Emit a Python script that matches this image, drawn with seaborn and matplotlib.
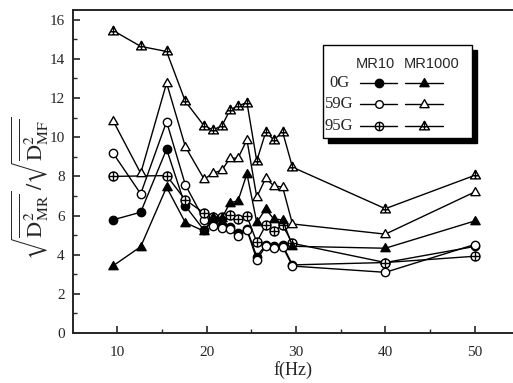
import numpy as np
import pandas as pd
import matplotlib
matplotlib.use("Agg")
import matplotlib.pyplot as plt
from matplotlib.path import Path
from matplotlib.lines import Line2D
from matplotlib.patches import Rectangle
import seaborn as sns

# ---------------- data ----------------
freq = [9.5, 12.6, 15.5, 17.6, 19.7, 20.7, 21.7, 22.6, 23.5, 24.5,
        25.6, 26.6, 27.5, 28.5, 29.6, 40, 50]
freq_mr10_95 = [9.5, 15.5, 17.6, 19.7, 20.7, 21.7, 22.6, 23.5, 24.5,
                25.6, 26.6, 27.5, 28.5, 29.6, 40, 50]

mr10_0g = [5.78, 6.17, 9.39, 6.49, 5.25, 5.75, 5.5, 5.4, 5.1, 5.3,
           3.9, 4.5, 4.42, 4.48, 3.48, 3.6, 4.42]
mr10_59g = [9.19, 7.11, 10.8, 7.57, 5.79, 5.45, 5.38, 5.3, 4.95, 5.27,
            3.75, 4.42, 4.35, 4.41, 3.42, 3.1, 4.52]
mr10_95g = [8.0, 8.04, 6.8, 6.13, 5.95, 5.9, 6.02, 5.8, 5.97,
            4.64, 5.5, 5.2, 5.5, 4.58, 3.6, 3.92]
mr1000_0g = [3.43, 4.41, 7.45, 5.64, 5.2, 5.95, 5.88, 6.65, 6.75, 8.13,
             5.65, 6.34, 5.82, 5.78, 4.43, 4.33, 5.72]
mr1000_59g = [10.85, 8.16, 12.77, 9.52, 7.86, 8.16, 8.32, 8.93, 8.93, 9.87,
              6.94, 7.91, 7.52, 7.45, 5.57, 5.05, 7.2]
mr1000_95g = [15.45, 14.64, 14.38, 11.83, 10.58, 10.38, 10.58, 11.4, 11.6, 11.77,
              8.79, 10.26, 9.87, 10.26, 8.47, 6.35, 8.05]

# ---------------- markers ----------------
def circle_plus():
    circ = Path.unit_circle()
    cross = Path([(-1, 0), (1, 0), (0, -1), (0, 1)],
                 [Path.MOVETO, Path.LINETO, Path.MOVETO, Path.LINETO])
    return Path.make_compound_path(circ, cross)

def tri_path():
    return Path([(0, 1), (-0.95, -0.65), (0.95, -0.65), (0, 1)],
                [Path.MOVETO, Path.LINETO, Path.LINETO, Path.CLOSEPOLY])

def tri_plus():
    tri = tri_path()
    cross = Path([(-0.55, -0.05), (0.55, -0.05), (0, -0.65), (0, 1)],
                 [Path.MOVETO, Path.LINETO, Path.MOVETO, Path.LINETO])
    return Path.make_compound_path(tri, cross)

M_CIRC = 'o'
M_CPLUS = circle_plus()
M_TRI = tri_path()
M_TPLUS = tri_plus()

series = [
    (freq, mr10_0g, M_CIRC, 'black', 6.0),
    (freq, mr10_59g, M_CIRC, 'white', 6.0),
    (freq_mr10_95, mr10_95g, M_CPLUS, 'white', 6.5),
    (freq, mr1000_0g, M_TRI, 'black', 7.0),
    (freq, mr1000_59g, M_TRI, 'white', 7.0),
    (freq, mr1000_95g, M_TPLUS, 'white', 7.5),
]

# ---------------- figure ----------------
sns.set_style("ticks")
plt.rcParams['font.family'] = ['Liberation Serif', 'DejaVu Serif']
plt.rcParams['mathtext.fontset'] = 'stix'

fig = plt.figure(figsize=(5.13, 3.83), dpi=100)
ax = fig.add_axes([0.142, 0.1305, 0.858, 0.8435])

for x, y, m, fc, ms in series:
    df = pd.DataFrame({'f': x, 'v': y})
    sns.lineplot(data=df, x='f', y='v', ax=ax, color='black', lw=1.0,
                 marker=m, markersize=ms, markerfacecolor=fc,
                 markeredgecolor='black', markeredgewidth=1.0,
                 estimator=None, sort=False, zorder=3)

ax.set_xlim(5, 54.3)
ax.set_ylim(0, 16.5)
ax.set_xticks([10, 20, 30, 40, 50])
ax.set_xticks([15, 25, 35, 45], minor=True)
ax.set_yticks(np.arange(0, 17, 2))
ax.set_yticks(np.arange(1, 17, 2), minor=True)
ax.tick_params(axis='both', which='major', direction='in', length=5, width=1.2,
               labelsize=11, pad=6)
ax.tick_params(axis='both', which='minor', direction='in', length=3, width=1.0)
ax.tick_params(axis='x', pad=9)
for s in ['left', 'bottom', 'top']:
    ax.spines[s].set_linewidth(1.4)
ax.spines['right'].set_visible(False)

ax.set_xlabel('f(Hz)', fontsize=13, labelpad=2)
ax.set_ylabel(r'$\sqrt{\overline{\mathrm{D}^2_{\mathrm{MR}}}}\,/\sqrt{\overline{\mathrm{D}^2_{\mathrm{MF}}}}$',
              fontsize=16, labelpad=2)
ax.yaxis.set_label_coords(-0.05, 0.45)

# ---------------- legend (table style) ----------------
W, H = 513.0, 383.0
def fx(px):
    return px / W
def fy(py):
    return 1 - py / H

x0, x1, y0, y1 = 323, 472, 45, 138
shadow = Rectangle((fx(x0 + 5), fy(y1 + 5)), fx(x1 - x0), (y1 - y0) / H,
                   transform=fig.transFigure, facecolor='black', edgecolor='black',
                   zorder=5)
box = Rectangle((fx(x0), fy(y1)), fx(x1 - x0), (y1 - y0) / H,
                transform=fig.transFigure, facecolor='white', edgecolor='black',
                lw=1.0, zorder=6)
fig.add_artist(shadow)
fig.add_artist(box)

fig.text(fx(375), fy(64), 'MR10', ha='center', va='center', fontsize=10.5,
         family='Liberation Sans', zorder=7)
fig.text(fx(432), fy(64), 'MR1000', ha='center', va='center', fontsize=10.5,
         family='Liberation Sans', zorder=7)

rows = ['0G', '59G', '95G']
row_y = [83, 104, 126]
leg_markers = [((M_CIRC, 'black', 6.0), (M_TRI, 'black', 7.0)),
               ((M_CIRC, 'white', 5.5), (M_TRI, 'white', 7.0)),
               ((M_CPLUS, 'white', 6.0), (M_TPLUS, 'white', 7.5))]
for lab, yy, (mA, mB) in zip(rows, row_y, leg_markers):
    fig.text(fx(339), fy(yy), lab, ha='center', va='center', fontsize=12, zorder=7)
    for (xa, xb), (m, fc, ms) in zip([(360, 397), (405, 443)], [mA, mB]):
        ln = Line2D([fx(xa), fx(xb)], [fy(yy), fy(yy)], transform=fig.transFigure,
                    color='black', lw=1.0, zorder=7)
        fig.add_artist(ln)
        mk = Line2D([fx((xa + xb) / 2)], [fy(yy)], transform=fig.transFigure,
                    marker=m, markersize=ms, markerfacecolor=fc,
                    markeredgecolor='black', markeredgewidth=1.0, ls='none', zorder=8)
        fig.add_artist(mk)

fig.savefig('out.png', dpi=100)
